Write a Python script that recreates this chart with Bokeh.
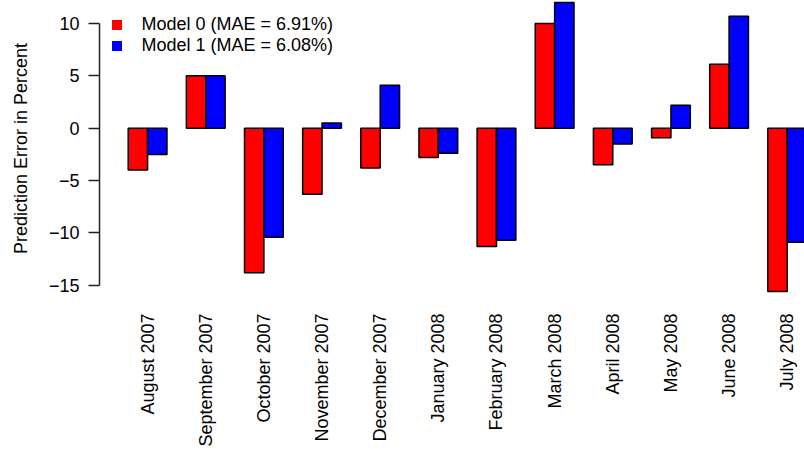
import numpy as np
from bokeh.plotting import figure
from bokeh.models import (Range1d, FixedTicker, Legend, LegendItem,
                          ColumnDataSource)
from bokeh.embed import file_html
from bokeh.resources import INLINE

# Monthly prediction errors (percent) of the two models
months = ["August 2007", "September 2007", "October 2007", "November 2007",
          "December 2007", "January 2008", "February 2008", "March 2008",
          "April 2008", "May 2008", "June 2008", "July 2008"]
model0 = [-4.0, 5.0, -13.8, -6.3, -3.8, -2.8, -11.3, 10.0, -3.5, -0.9, 6.1, -15.6]
model1 = [-2.5, 5.0, -10.4, 0.5, 4.1, -2.4, -10.7, 12.0, -1.5, 2.2, 10.7, -10.9]
series_labels = ["Model 0 (MAE = 6.91%)", "Model 1 (MAE = 6.08%)"]
series_colors = ["#FF0000", "#0000FF"]
y_ticks = [-15, -10, -5, 0, 5, 10]

FONT = "Liberation Sans"
FS = "18px"

idx = np.arange(len(months))
bar_w = 1 / 3
src = ColumnDataSource(dict(x0=idx - bar_w / 2, x1=idx + bar_w / 2,
                            m0=model0, m1=model1))

p = figure(width=804, height=449, output_backend="svg", toolbar_location=None,
           x_range=Range1d(-0.827, 11.297), y_range=Range1d(-16.07, 12.197),
           min_border_left=99, min_border_right=0, min_border_top=0,
           min_border_bottom=149)
p.outline_line_color = None
p.xgrid.visible = False
p.ygrid.visible = False
p.background_fill_color = "white"

# grouped bars: red for model 0, blue for model 1
p.vbar(x="x0", width=bar_w, top="m0", bottom=0, source=src,
       fill_color=series_colors[0], line_color="black", line_width=1.5)
p.vbar(x="x1", width=bar_w, top="m1", bottom=0, source=src,
       fill_color=series_colors[1], line_color="black", line_width=1.5)

# y axis: line only between the outer ticks
yax = p.yaxis[0]
yax.ticker = FixedTicker(ticks=y_ticks)
yax.bounds = (min(y_ticks), max(y_ticks))
yax.major_label_overrides = {t: str(t).replace("-", "\u2212") for t in y_ticks}
yax.minor_tick_line_color = None
yax.major_tick_in = 0
yax.major_tick_out = 11
yax.major_label_standoff = 9
yax.axis_line_color = "#222222"
yax.axis_line_width = 1.5
yax.major_tick_line_color = "#222222"
yax.major_tick_line_width = 1.5
yax.major_label_text_font = FONT
yax.major_label_text_font_size = FS
yax.major_label_text_color = "black"
yax.axis_label = "Prediction Error in Percent"
yax.axis_label_text_font = FONT
yax.axis_label_text_font_size = FS
yax.axis_label_text_font_style = "normal"
yax.axis_label_text_color = "black"
yax.axis_label_standoff = 15

# x axis: month names written vertically, no line or ticks
xax = p.xaxis[0]
xax.ticker = FixedTicker(ticks=list(idx))
xax.major_label_overrides = {int(i): m for i, m in zip(idx, months)}
xax.major_label_orientation = np.pi / 2
xax.axis_line_color = None
xax.major_tick_line_color = None
xax.minor_tick_line_color = None
xax.major_tick_in = 0
xax.major_tick_out = 0
xax.major_label_standoff = 17
xax.major_label_text_font = FONT
xax.major_label_text_font_size = FS
xax.major_label_text_color = "black"

# legend with plain square keys, one entry per row
keys = [p.scatter(x=[np.nan], y=[np.nan], marker="square", size=10,
                  fill_color=c, line_color=None)
        for c in series_colors]
for row, (lab, r) in enumerate(zip(series_labels, keys)):
    leg = Legend(items=[LegendItem(label=lab, renderers=[r])],
                 location=(4.5, 259.5 - 21.5 * row), glyph_width=25,
                 glyph_height=25, label_height=25, label_standoff=13,
                 padding=0, margin=0, border_line_color=None,
                 background_fill_alpha=0, label_text_font=FONT,
                 label_text_font_size=FS, label_text_color="black")
    p.add_layout(leg)

open("out.html", "w").write(file_html(p, INLINE))
